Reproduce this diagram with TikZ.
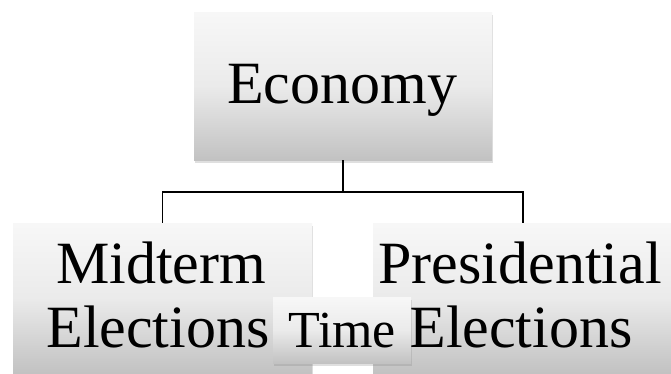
\documentclass[tikz,border=0pt]{standalone}
\usepackage{fontspec}
\setmainfont{Liberation Serif}
\usetikzlibrary{shadows}
\begin{document}
\begin{tikzpicture}[x=1pt,y=-1pt,
  box/.style={draw=none, rectangle, inner sep=0pt,
    top color=gray!6, bottom color=gray!48, middle color=gray!16,
    drop shadow={opacity=0.25, shadow xshift=1pt, shadow yshift=-3pt}},
  big/.style={font=\fontsize{60}{64}\selectfont, inner sep=0pt, anchor=base},
  small/.style={font=\fontsize{52}{56}\selectfont, inner sep=0pt, anchor=base},
  conn/.style={draw=black, line width=1.4pt}]
\useasboundingbox (0,0) rectangle (671,373);
\fill[white] (0,0) rectangle (671,373);
% boxes
\node[box, minimum width=298pt, minimum height=148pt] (eco) at (343,86) {};
\node[box, minimum width=299pt, minimum height=150pt] (mid) at (162.5,298) {};
\node[box, minimum width=300pt, minimum height=150pt] (pre) at (523,298) {};
% connectors
\coordinate (j) at (343,192);
\draw[conn] (eco.south) -- (j);
\draw[conn] (j) -| (mid.north);
\draw[conn] (j) -| (pre.north);
% texts
\node[big] (ecot) at (342,103) {Economy};
\node[big] (mid1) at (161,283) {Midterm};
\node[big] (mid2) at (158,347) {Elections};
\node[big] (pre1) at (520,283) {Presidential};
\node[big] (pre2) at (521,347) {Elections};
% time box
\node[box, minimum width=138pt, minimum height=66pt] (time) at (342,330) {};
\node[small] (timet) at (342,347) {Time};
\end{tikzpicture}
\end{document}
